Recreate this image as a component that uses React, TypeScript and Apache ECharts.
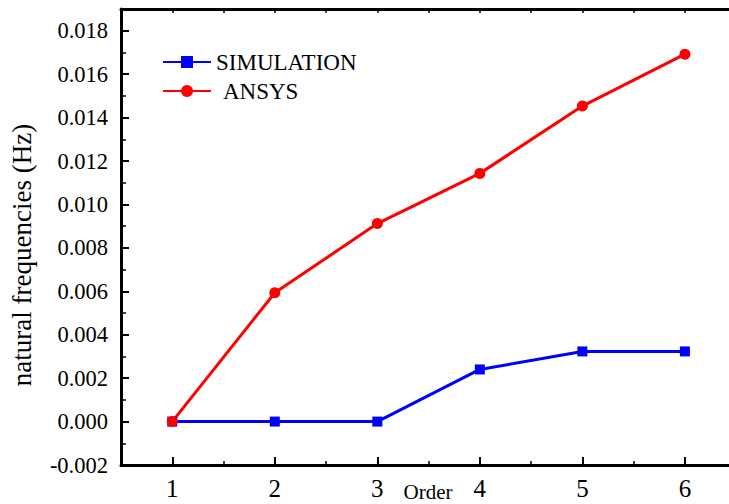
import React, { useEffect, useRef } from "react";
import * as echarts from "echarts";

const orders = [1, 2, 3, 4, 5, 6];
const simulation = [0, 0, 0, 0.0024, 0.00323, 0.00323];
const ansys = [0, 0.00593, 0.00912, 0.01143, 0.01453, 0.01692];
const yTickValues = [-0.002, 0, 0.002, 0.004, 0.006, 0.008, 0.01, 0.012, 0.014, 0.016, 0.018];
const yMinorValues = [-0.001, 0.001, 0.003, 0.005, 0.007, 0.009, 0.011, 0.013, 0.015, 0.017];
const xMinorValues = [1.5, 2.5, 3.5, 4.5, 5.5];
const xTopValues = [1, 1.5, 2, 2.5, 3, 3.5, 4, 4.5, 5, 5.5, 6];

const FONT = "Liberation Serif";

export default function App() {
  const ref = useRef<HTMLDivElement>(null);
  useEffect(() => {
    if (!ref.current) return;
    const chart = echarts.init(ref.current, undefined, { renderer: "svg" });
    const xBase = { type: "value", min: 0.5, max: 6.43, gridIndex: 0 } as any;
    const yBase = { type: "value", min: -0.002, max: 0.019, gridIndex: 0 } as any;
    chart.setOption({
      animation: false,
      backgroundColor: "#ffffff",
      textStyle: { fontFamily: FONT },
      grid: { left: 121, top: 9, bottom: 39, right: 0 },
      legend: {
        orient: "vertical",
        left: 162,
        top: 50,
        padding: 0,
        itemWidth: 48,
        itemHeight: 15,
        itemGap: 5,
        data: ["SIMULATION", "ANSYS"],
        formatter: (n: string) => (n === "ANSYS" ? "{p|" + n + "}" : "{q|" + n + "}"),
        textStyle: {
          fontFamily: FONT,
          fontSize: 23,
          color: "#000",
          lineHeight: 24,
          rich: {
            p: { fontFamily: FONT, fontSize: 23, color: "#000", padding: [0, 0, 0, 7] },
            q: { fontFamily: FONT, fontSize: 23, color: "#000" },
          },
        },
      },
      xAxis: [
        {
          ...xBase,
          position: "bottom",
          axisLine: { show: true, onZero: false, lineStyle: { color: "#000", width: 3 } },
          axisTick: { show: true, inside: true, length: 8, customValues: orders, lineStyle: { color: "#000", width: 2 } },
          axisLabel: { show: true, customValues: orders, fontFamily: FONT, fontSize: 25, color: "#000", margin: 11, formatter: (v: number) => String(v) },
          splitLine: { show: false },
        },
        {
          ...xBase,
          position: "bottom",
          axisLine: { show: false, onZero: false },
          axisTick: { show: true, inside: true, length: 4, customValues: xMinorValues, lineStyle: { color: "#000", width: 1.5 } },
          axisLabel: { show: false },
          splitLine: { show: false },
        },
        {
          ...xBase,
          position: "top",
          axisLine: { show: true, onZero: false, lineStyle: { color: "#000", width: 3 } },
          axisTick: { show: true, inside: true, length: 4, customValues: xTopValues, lineStyle: { color: "#000", width: 1.5 } },
          axisLabel: { show: false },
          splitLine: { show: false },
        },
      ],
      yAxis: [
        {
          ...yBase,
          position: "left",
          axisLine: { show: true, onZero: false, lineStyle: { color: "#000", width: 3 } },
          axisTick: { show: true, inside: true, length: 8, customValues: yTickValues, lineStyle: { color: "#000", width: 2 } },
          axisLabel: {
            show: true,
            customValues: yTickValues,
            fontFamily: FONT,
            fontSize: 22.5,
            color: "#000",
            margin: 13,
            formatter: (v: number) => v.toFixed(3),
          },
          splitLine: { show: false },
        },
        {
          ...yBase,
          position: "left",
          axisLine: { show: false, onZero: false },
          axisTick: { show: true, inside: true, length: 5, customValues: yMinorValues, lineStyle: { color: "#000", width: 1.5 } },
          axisLabel: { show: false },
          splitLine: { show: false },
        },
      ],
      graphic: [
        {
          type: "text",
          x: 22,
          y: 255,
          rotation: Math.PI / 2,
          style: {
            text: "natural frequencies (Hz)",
            fontFamily: FONT,
            fontSize: 27,
            fill: "#000",
            textAlign: "center",
            textVerticalAlign: "middle",
          },
        },
        {
          type: "text",
          x: 428,
          y: 492,
          style: {
            text: "Order",
            fontFamily: FONT,
            fontSize: 21,
            fill: "#000",
            textAlign: "center",
            textVerticalAlign: "middle",
          },
        },
      ],
      series: [
        {
          name: "SIMULATION",
          type: "line",
          xAxisIndex: 0,
          yAxisIndex: 0,
          data: orders.map((o, i) => [o, simulation[i]]),
          symbol: "rect",
          symbolSize: 10,
          lineStyle: { color: "#0000ff", width: 3 },
          itemStyle: { color: "#0000ff" },
        },
        {
          name: "ANSYS",
          type: "line",
          xAxisIndex: 0,
          yAxisIndex: 0,
          data: orders.map((o, i) => [o, ansys[i]]),
          symbol: "circle",
          symbolSize: 11,
          lineStyle: { color: "#ff0000", width: 3 },
          itemStyle: { color: "#ff0000" },
        },
      ],
    });
    return () => chart.dispose();
  }, []);
  return (
    <div
      ref={ref}
      style={{ position: "absolute", left: 0, top: 0, width: 729, height: 504, overflow: "hidden" }}
    />
  );
}
